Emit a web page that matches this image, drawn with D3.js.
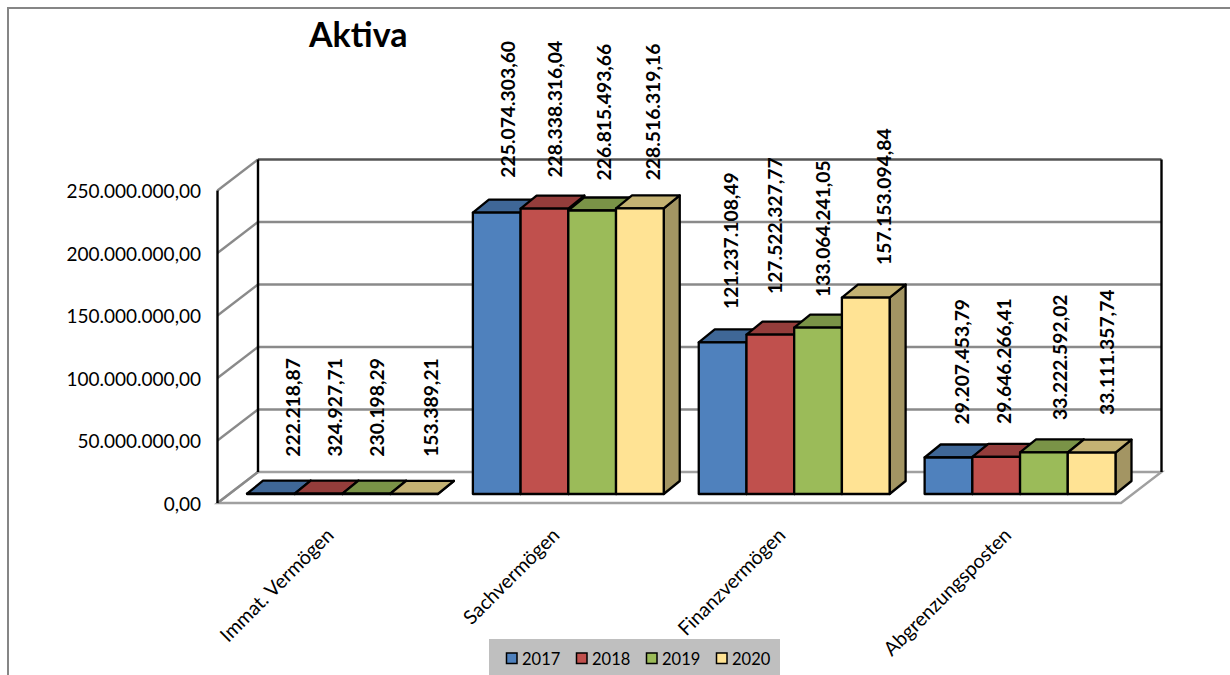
<!DOCTYPE html>
<html>
<head>
<meta charset="utf-8">
<script src="https://cdn.jsdelivr.net/npm/d3@7"></script>
<style>
html,body{margin:0;padding:0;background:#fff;overflow:hidden}
svg{display:block}
text{font-family:Lato,"Noto Sans",sans-serif;fill:#000}
</style>
</head>
<body>
<svg id="chart" width="1230" height="675"></svg>
<script>
const categories = ["Immat. Vermögen", "Sachvermögen", "Finanzvermögen", "Abgrenzungsposten"];
const years = ["2017", "2018", "2019", "2020"];
const values2017 = [222218.87, 225074303.60, 121237108.49, 29207453.79];
const values2018 = [324927.71, 228338316.04, 127522327.77, 29646266.41];
const values2019 = [230198.29, 226815493.66, 133064241.05, 33222592.02];
const values2020 = [153389.21, 228516319.16, 157153094.84, 33111357.74];
const seriesValues = [values2017, values2018, values2019, values2020];
const yTicks = [0, 50e6, 100e6, 150e6, 200e6, 250e6];

const frontColors = ["#4f81bd", "#c0504d", "#9bbb59", "#ffe394"];
const topColors = ["#3f6797", "#943d3b", "#7a9347", "#c4b273"];
const sideColors = ["#35587f", "#7d3331", "#66793a", "#a39563"];

// Hand placed data label nudges (dx, dy from the top of each column), by category then year
const labelNudges = [
  [[22.2, -37], [16.5, -37], [10.7, -37], [17, -37]],
  [[11, -35], [11, -31], [12, -30], [13, -28]],
  [[9, -33.5], [5, -40.6], [5.5, -30.7], [18, -32.6]],
  [[14, -33], [8, -33], [16, -32.5], [16, -37.6]]
];

const de = d3.formatLocale({decimal: ",", thousands: ".", grouping: [3], currency: ["", ""]});
const money = de.format(",.2f");

const svg = d3.select("#chart");

// Oblique projection: the chart box has a front plane and a back plane
const left = 217.5, right = 1121, base = 503;
const boxDx = 40.5, boxDy = -31;
const barFrontDx = 12, barFrontDy = -9;
const barDepthDx = 16, barDepthDy = -13;

const x0 = d3.scaleBand().domain(categories).range([left, right]).paddingInner(0.155).paddingOuter(0.0775);
const x1 = d3.scaleBand().domain(years).range([0, x0.bandwidth()]);
const y = d3.scaleLinear().domain([0, 250e6]).range([base, base - 312.5]);

const poly = pts => pts.map(p => p.join(",")).join(" ");

// Outer frame, open on the right and at the bottom
svg.append("path").attr("d", "M8,675V8H1230").attr("fill", "none").attr("stroke", "#868686").attr("stroke-width", 2);

// Walls and floor
const grid = svg.append("g").attr("fill", "none");
const gridGray = "#8a8a8a";
grid.append("polygon")
  .attr("points", poly([[left, base], [right, base], [right + boxDx, base + boxDy], [left + boxDx, base + boxDy]]))
  .attr("stroke", "#a0a0a0").attr("stroke-width", 2.4);
yTicks.forEach(t => {
  const yy = y(t);
  if (t > 0) {
    grid.append("line").attr("x1", left + boxDx).attr("x2", right + boxDx)
      .attr("y1", yy + boxDy).attr("y2", yy + boxDy)
      .attr("stroke", t === 250e6 ? "#555" : gridGray).attr("stroke-width", 2.4);
  }
  grid.append("line").attr("x1", left).attr("x2", left + boxDx)
    .attr("y1", yy).attr("y2", yy + boxDy).attr("stroke", gridGray).attr("stroke-width", 2.4);
});
const vLine = (xx, y1, y2) => grid.append("line").attr("x1", xx).attr("x2", xx).attr("y1", y1).attr("y2", y2)
  .attr("stroke", "#000").attr("stroke-width", 2.4);
vLine(left, y(250e6), base);
vLine(left + boxDx, y(250e6) + boxDy, base + boxDy);
vLine(right + boxDx, y(250e6) + boxDy, base + boxDy);

// Columns
const bars = svg.append("g").attr("stroke", "#000").attr("stroke-width", 2.3).attr("stroke-linejoin", "round");
categories.forEach((cat, ci) => {
  years.forEach((yr, si) => {
    const v = seriesValues[si][ci];
    const xa = x0(cat) + x1(yr) + barFrontDx;
    const xb = xa + x1.bandwidth();
    const yb = y(0) + barFrontDy;
    const yt = y(v) + barFrontDy;
    const dx = barDepthDx, dy = barDepthDy;
    const g = bars.append("g");
    g.append("polygon").attr("fill", sideColors[si])
      .attr("points", poly([[xb, yt], [xb + dx, yt + dy], [xb + dx, yb + dy], [xb, yb]]));
    g.append("polygon").attr("fill", topColors[si])
      .attr("points", poly([[xa, yt], [xa + dx, yt + dy], [xb + dx, yt + dy], [xb, yt]]));
    g.append("rect").attr("fill", frontColors[si])
      .attr("x", xa).attr("y", yt).attr("width", xb - xa).attr("height", yb - yt);
  });
});

// Value labels above the columns
const labels = svg.append("g");
categories.forEach((cat, ci) => {
  years.forEach((yr, si) => {
    const v = seriesValues[si][ci];
    const [nx, ny] = labelNudges[ci][si];
    const cx = x0(cat) + x1(yr) + barFrontDx + x1.bandwidth() / 2 + nx;
    const cy = y(v) + barFrontDy + ny;
    labels.append("text")
      .attr("transform", `translate(${cx},${cy}) rotate(-90)`)
      .attr("dy", "0.35em")
      .attr("font-size", 19.3).attr("font-weight", 700)
      .text(money(v));
  });
});

// Value axis
const yAxis = d3.axisLeft(y).tickValues(yTicks).tickSize(0).tickPadding(0).tickFormat(money);
const yG = svg.append("g").attr("transform", "translate(201,1)").call(yAxis);
yG.select(".domain").remove();
yG.selectAll("text").attr("font-size", 19).attr("dy", "0.32em");
yG.attr("font-family", null).attr("font-size", null);

// Category axis with slanted labels
const xAxis = d3.axisBottom(x0).tickSize(0).tickFormat(d => d);
const xG = svg.append("g").call(xAxis);
xG.select(".domain").remove();
xG.attr("font-family", null).attr("font-size", null);
xG.selectAll(".tick").attr("transform", d => {
  const c = x0(d) + x0.bandwidth() / 2;
  return `translate(${c},532) rotate(-45)`;
});
xG.selectAll("text").attr("y", 0).attr("dy", "0.32em").attr("text-anchor", "end").attr("font-size", 19.6);

// Title
svg.append("text").attr("x", 309).attr("y", 47).attr("font-size", 34).attr("font-weight", 700).text("Aktiva");

// Legend
const legendX = d3.scalePoint().domain(years).range([506.5, 716.5]);
const legend = svg.append("g");
legend.append("rect").attr("x", 489).attr("y", 639).attr("width", 291).attr("height", 36).attr("fill", "#bfbfbf");
years.forEach((yr, i) => {
  legend.append("rect").attr("x", legendX(yr)).attr("y", 653).attr("width", 10.5).attr("height", 10.5)
    .attr("fill", frontColors[i]).attr("stroke", "#000").attr("stroke-width", 1.5);
  legend.append("text").attr("x", legendX(yr) + 15.5).attr("y", 664.5).attr("font-size", 16.5).text(yr);
});
</script>
</body>
</html>
